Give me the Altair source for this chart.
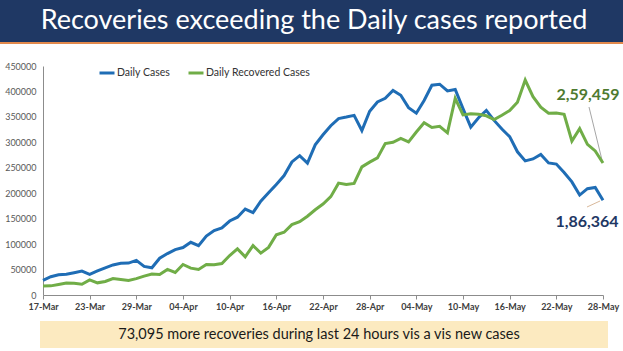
import altair as alt
import pandas as pd

# ---------------- data ----------------
x_labels = ['17-Mar', '23-Mar', '29-Mar', '04-Apr', '10-Apr', '16-Apr', '22-Apr',
            '28-Apr', '04-May', '10-May', '16-May', '22-May', '28-May']

series_names = ['Daily Cases', 'Daily Recovered Cases']
series_colors = ['#1F6DB5', '#70AD47']

# 17-Mar ... 28-May (73 days)
daily_cases = [
    28903, 35871, 39726, 40953, 43846, 46951, 40715, 47262, 53476, 59118, 62258, 62714, 68020, 56211, 53480,
    72330, 81466, 89129, 93249, 103558, 96982, 115736, 126789, 131968, 145384, 152879, 168912, 161736, 184372,
    200739, 217353, 234692, 261500, 273810, 259170, 295041, 314835, 332730, 346786, 349691, 352991, 323144,
    360960, 379257, 386452,
    401993, 392488, 368147, 357229, 382315, 412262, 414188, 401078, 403738, 366161, 329942, 348421, 362727,
    343144, 326098, 311170, 281386, 263533, 267334, 276110, 259551, 257299, 240842, 222315, 196427, 208921,
    211298, 186364,
]
daily_recovered = [
    17741, 17958, 20654, 23653, 22956, 21180, 29785, 23907, 26490, 32231, 30386, 28739, 32231, 37028, 41280,
    40382, 50356, 44202, 60048, 52847, 50143, 59856, 59258, 61899, 77567, 90584, 75086, 97168, 82339, 93528,
    118302, 123354, 138423, 144178, 154761, 167457, 178841, 193279, 219838, 217113, 219272, 251827, 261162,
    269507, 297540,
    299988, 307865, 300732, 320289, 338439, 329113, 331507, 318609, 386444, 353818, 356082, 355338, 352181,
    344776, 353299, 362437, 378741, 422436, 389851, 369077, 357295, 357630, 355102, 302544, 326850, 295955,
    283135, 259459,
]

title_text = 'Recoveries exceeding the Daily cases reported'
banner_text = '73,095 more recoveries during last 24 hours vis a vis new cases'
last_recovered_label = '2,59,459'
last_cases_label = '1,86,364'

# ---------------- table ----------------
rows = []
for i, v in enumerate(daily_cases):
    rows.append({'day': i, 'value': v, 'series': series_names[0]})
for i, v in enumerate(daily_recovered):
    rows.append({'day': i, 'value': v, 'series': series_names[1]})
df = pd.DataFrame(rows)

W, H = 560, 229
FONT = 'Lato'
one = pd.DataFrame({'a': [0]})

label_expr = '[' + ','.join("'%s'" % s for s in x_labels) + '][round(datum.value / 6)]'

lines = alt.Chart(df).mark_line(strokeWidth=3, clip=False).encode(
    x=alt.X('day:Q',
            scale=alt.Scale(domain=[0, 72], nice=False, zero=False),
            axis=alt.Axis(values=list(range(0, 73, 6)), labelExpr=label_expr, title=None, grid=False,
                          domainColor='#8C8C8C', tickColor='#8C8C8C', tickSize=4,
                          labelOverlap=False, labelFlush=False, labelFontSize=9, labelFont=FONT,
                          labelColor='#404040', labelFontWeight='bold', labelPadding=3)),
    y=alt.Y('value:Q',
            scale=alt.Scale(domain=[0, 450000], nice=False),
            axis=alt.Axis(values=list(range(0, 450001, 50000)), format='d', title=None, grid=False,
                          ticks=False, domainColor='#8C8C8C', labelFontSize=9, labelFont=FONT,
                          labelColor='#595959', labelPadding=7, labelOverlap=False,
                          labelFlush=False)),
    color=alt.Color('series:N',
                    scale=alt.Scale(domain=series_names, range=series_colors),
                    legend=alt.Legend(orient='none', legendX=55, legendY=-2, direction='horizontal',
                                      title=None, symbolType='stroke', symbolStrokeWidth=3,
                                      symbolSize=225, labelFontSize=10.5, labelFont=FONT,
                                      labelColor='#333333', columnPadding=11, labelOffset=1,
                                      padding=0)),
    order='day:Q',
)

# title bar
title_bar = alt.Chart(one).mark_rect(color='#1F3864').encode(
    x=alt.value(-43), x2=alt.value(W + 20), y=alt.value(-66), y2=alt.value(-24))
title_line = alt.Chart(one).mark_rect(color='#E2894C').encode(
    x=alt.value(-43), x2=alt.value(W + 20), y=alt.value(-24), y2=alt.value(-22))
title = alt.Chart(one).mark_text(text=title_text, font=FONT, fontSize=27, color='white',
                                 align='center', baseline='middle').encode(
    x=alt.value(271), y=alt.value(-45))

# bottom banner
banner = alt.Chart(one).mark_rect(color='#FCEAC0').encode(
    x=alt.value(-3), x2=alt.value(565), y=alt.value(255), y2=alt.value(282))
banner_txt = alt.Chart(one).mark_text(text=banner_text, font=FONT, fontSize=14.5, color='#1A1A1A',
                                      align='center', baseline='middle').encode(
    x=alt.value(276), y=alt.value(269))

# end annotations
green_lead = alt.Chart(one).mark_rule(color='#A6A6A6', strokeWidth=1).encode(
    x=alt.value(546), y=alt.value(41), x2=alt.value(559), y2=alt.value(94))
green_txt = alt.Chart(one).mark_text(text=last_recovered_label, font=FONT, fontSize=16,
                                     fontWeight='bold', color='#4E7A30', align='center',
                                     baseline='middle').encode(
    x=alt.value(545), y=alt.value(29))
navy_lead = alt.Chart(one).mark_rule(color='#D9B99B', strokeWidth=1).encode(
    x=alt.value(544), y=alt.value(141), x2=alt.value(557), y2=alt.value(135))
navy_txt = alt.Chart(one).mark_text(text=last_cases_label, font=FONT, fontSize=16,
                                    fontWeight='bold', color='#1F3864', align='center',
                                    baseline='middle').encode(
    x=alt.value(544), y=alt.value(156))

chart = alt.layer(
    title_bar, title_line, title, banner, banner_txt,
    green_lead, navy_lead, lines, green_txt, navy_txt,
).properties(
    width=W, height=H,
    padding={'left': 43, 'top': 66, 'right': 20, 'bottom': 56},
    autosize=alt.AutoSizeParams(type='none'),
    background='white',
).configure_view(stroke=None)

chart.save('out.html', embed_options={'renderer': 'svg', 'actions': False})
